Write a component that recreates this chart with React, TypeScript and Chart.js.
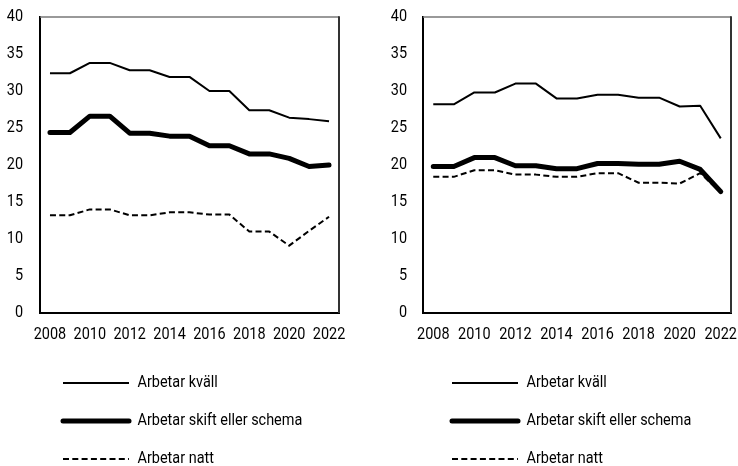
import React, { useEffect, useRef } from 'react';
import { Chart, registerables } from 'chart.js';

Chart.register(...registerables);

const years = ['2008', '2009', '2010', '2011', '2012', '2013', '2014', '2015', '2016', '2017', '2018', '2019', '2020', '2021', '2022'];
const seriesNames = ['Arbetar kväll', 'Arbetar skift eller schema', 'Arbetar natt'];
const yTicks = [0, 5, 10, 15, 20, 25, 30, 35, 40];

const leftKvall = [32.4, 32.4, 33.8, 33.8, 32.8, 32.8, 31.9, 31.9, 30.0, 30.0, 27.4, 27.4, 26.4, 26.2, 25.9];
const leftSkift = [24.4, 24.4, 26.6, 26.6, 24.3, 24.3, 23.9, 23.9, 22.6, 22.6, 21.5, 21.5, 20.9, 19.8, 20.0];
const leftNatt = [13.2, 13.2, 14.0, 14.0, 13.2, 13.2, 13.6, 13.6, 13.3, 13.3, 11.0, 11.0, 9.1, 11.1, 13.0];

const rightKvall = [28.2, 28.2, 29.8, 29.8, 31.0, 31.0, 29.0, 29.0, 29.5, 29.5, 29.1, 29.1, 27.9, 28.0, 23.6];
const rightSkift = [19.8, 19.8, 21.0, 21.0, 19.9, 19.9, 19.5, 19.5, 20.2, 20.2, 20.1, 20.1, 20.5, 19.4, 16.4];
const rightNatt = [18.4, 18.4, 19.3, 19.3, 18.7, 18.7, 18.4, 18.4, 18.9, 18.9, 17.6, 17.6, 17.5, 18.9, 16.3];

const FONT = "Roboto, 'DejaVu Sans', sans-serif";
const FONT_SIZE = 17;
const TEXT_SX = 0.85;

const framePlugin = {
  id: 'frame',
  afterDatasetsDraw(chart: any) {
    const { ctx, chartArea: a } = chart;
    ctx.save();
    ctx.setLineDash([]);
    ctx.lineCap = 'butt';
    ctx.strokeStyle = '#777';
    ctx.lineWidth = 1.5;
    ctx.beginPath();
    ctx.moveTo(a.left, a.top);
    ctx.lineTo(a.right, a.top);
    ctx.stroke();
    ctx.strokeStyle = '#333';
    ctx.lineWidth = 2;
    ctx.beginPath();
    ctx.moveTo(a.right, a.top - 0.75);
    ctx.lineTo(a.right, a.bottom);
    ctx.stroke();
    ctx.restore();
  },
};

const legendShiftPlugin = {
  id: 'legendShift',
  afterLayout(chart: any, _args: any, opts: any) {
    const l = chart.legend;
    if (!l) return;
    const dx = opts.dx || 0;
    const dy = opts.dy || 0;
    l.left += dx;
    l.right += dx;
    l.top += dy;
    l.bottom += dy;
  },
};

function condenseText(ctx: any) {
  const orig = ctx.fillText.bind(ctx);
  ctx.fillText = (text: string, x: number, y: number, maxWidth?: number) => {
    ctx.save();
    ctx.translate(x, y);
    ctx.scale(TEXT_SX, 1);
    if (maxWidth !== undefined) orig(text, 0, 0, maxWidth / TEXT_SX);
    else orig(text, 0, 0);
    ctx.restore();
  };
}

type PanelProps = {
  kvall: number[];
  skift: number[];
  natt: number[];
  left: number;
  width: number;
  yAxisWidth: number;
  tickPad: number;
  padRight: number;
  legendDx: number;
};

function Panel(props: PanelProps) {
  const ref = useRef<HTMLCanvasElement | null>(null);
  useEffect(() => {
    if (!ref.current) return;
    const ctx = ref.current.getContext('2d') as any;
    condenseText(ctx);
    const chart = new Chart(ctx, {
      type: 'line',
      data: {
        labels: years,
        datasets: [
          {
            label: seriesNames[0],
            data: props.kvall,
            borderColor: '#000',
            backgroundColor: '#000',
            borderWidth: 2,
            pointRadius: 0,
            tension: 0,
            borderCapStyle: 'butt',
            borderJoinStyle: 'round',
          },
          {
            label: seriesNames[1],
            data: props.skift,
            borderColor: '#000',
            backgroundColor: '#000',
            borderWidth: 5,
            pointRadius: 0,
            tension: 0,
            borderCapStyle: 'round',
            borderJoinStyle: 'round',
          },
          {
            label: seriesNames[2],
            data: props.natt,
            borderColor: '#000',
            backgroundColor: '#000',
            borderWidth: 2,
            borderDash: [6, 3.3],
            pointRadius: 0,
            tension: 0,
            borderCapStyle: 'butt',
            borderJoinStyle: 'round',
          },
        ],
      },
      options: {
        animation: false,
        responsive: false,
        maintainAspectRatio: false,
        layout: { padding: { left: 0, right: props.padRight, top: 17, bottom: 0 } },
        plugins: {
          legend: {
            position: 'bottom',
            align: 'start',
            labels: {
              usePointStyle: true,
              pointStyle: 'line',
              pointStyleWidth: 66,
              padding: 21,
              color: '#000',
              font: { family: FONT, size: FONT_SIZE },
              generateLabels: (c: any) =>
                c.data.datasets.map((ds: any, i: number) => ({
                  text: ds.label,
                  fillStyle: '#000',
                  strokeStyle: '#000',
                  fontColor: '#000',
                  lineWidth: ds.borderWidth,
                  lineDash: ds.borderDash || [],
                  lineCap: ds.borderCapStyle,
                  pointStyle: 'line',
                  hidden: false,
                  datasetIndex: i,
                })),
            },
          },
          tooltip: { enabled: false },
          legendShift: { dx: props.legendDx, dy: 11.5 },
        } as any,
        scales: {
          x: {
            type: 'category',
            offset: true,
            grid: { display: false, drawTicks: false },
            border: { display: true, color: '#000', width: 2 },
            ticks: {
              autoSkip: false,
              maxRotation: 0,
              minRotation: 0,
              padding: 12,
              color: '#000',
              font: { family: FONT, size: FONT_SIZE },
              callback: (_v: any, i: number) => (i % 2 === 0 ? years[i] : ''),
            },
            afterFit: (s: any) => {
              s.height = 29;
              s.paddingLeft = 0;
              s.paddingRight = 0;
            },
          },
          y: {
            min: 0,
            max: 40,
            grid: { display: false, drawTicks: false },
            border: { display: true, color: '#000', width: 2 },
            afterBuildTicks: (s: any) => {
              s.ticks = yTicks.map((v) => ({ value: v }));
            },
            ticks: {
              padding: props.tickPad,
              color: '#000',
              font: { family: FONT, size: FONT_SIZE },
            },
            afterFit: (s: any) => {
              s.width = props.yAxisWidth;
              s.paddingTop = 0;
              s.paddingBottom = 0;
            },
          },
        },
      } as any,
      plugins: [framePlugin, legendShiftPlugin],
    });
    return () => chart.destroy();
  }, []);
  return (
    <canvas
      ref={ref}
      width={props.width}
      height={466}
      style={{ position: 'absolute', left: props.left, top: 0, width: props.width, height: 466 }}
    />
  );
}

export default function App() {
  return (
    <div style={{ position: 'fixed', left: 0, top: 0, width: 738, height: 466, background: '#fff' }}>
      <Panel kvall={leftKvall} skift={leftSkift} natt={leftNatt} left={0} width={369} yAxisWidth={40} tickPad={17} padRight={30} legendDx={42} />
      <Panel kvall={rightKvall} skift={rightSkift} natt={rightNatt} left={369} width={369} yAxisWidth={54} tickPad={16} padRight={7} legendDx={62} />
    </div>
  );
}
